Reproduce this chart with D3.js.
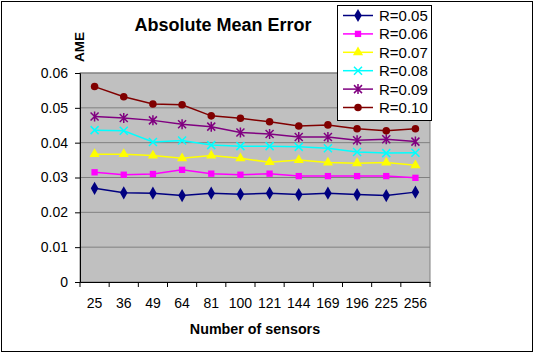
<!DOCTYPE html>
<html>
<head>
<meta charset="utf-8">
<script src="https://cdn.jsdelivr.net/npm/d3@7"></script>
<style>
  body { margin: 0; background: #fff; }
  text { font-family: Arial, "Liberation Sans", sans-serif; }
</style>
</head>
<body>
<div id="chart"></div>
<script>
const sensors = ["25", "36", "49", "64", "81", "100", "121", "144", "169", "196", "225", "256"];
const yTicks = [0, 0.01, 0.02, 0.03, 0.04, 0.05, 0.06];

const r005 = [0.0269, 0.0256, 0.0255, 0.0248, 0.0255, 0.0252, 0.0255, 0.0251, 0.0255, 0.0251, 0.0248, 0.0258];
const r006 = [0.0315, 0.0308, 0.0310, 0.0322, 0.0311, 0.0308, 0.0311, 0.0304, 0.0304, 0.0304, 0.0304, 0.0299];
const r007 = [0.0367, 0.0367, 0.0363, 0.0355, 0.0363, 0.0355, 0.0344, 0.0350, 0.0343, 0.0341, 0.0343, 0.0335];
const r008 = [0.0436, 0.0434, 0.0402, 0.0406, 0.0393, 0.0390, 0.0390, 0.0388, 0.0384, 0.0373, 0.0370, 0.0371];
const r009 = [0.0475, 0.0471, 0.0464, 0.0453, 0.0446, 0.0429, 0.0425, 0.0416, 0.0416, 0.0407, 0.0410, 0.0403];
const r010 = [0.0561, 0.0532, 0.0511, 0.0509, 0.0477, 0.0470, 0.0460, 0.0448, 0.0451, 0.0440, 0.0434, 0.0440];

const series = [
  { name: "R=0.05", values: r005, color: "#000080", marker: "diamond" },
  { name: "R=0.06", values: r006, color: "#ff00ff", marker: "square" },
  { name: "R=0.07", values: r007, color: "#ffff00", marker: "triangle" },
  { name: "R=0.08", values: r008, color: "#00ffff", marker: "x" },
  { name: "R=0.09", values: r009, color: "#800080", marker: "star" },
  { name: "R=0.10", values: r010, color: "#800000", marker: "circle" },
];

const width = 534;
const height = 354;
const plot = { left: 80, top: 73, right: 430, bottom: 282 };

const svg = d3.select("#chart").append("svg")
  .attr("width", width)
  .attr("height", height);

svg.append("rect")
  .attr("x", 1.5).attr("y", 1.5)
  .attr("width", 531).attr("height", 350)
  .attr("fill", "#fff")
  .attr("stroke", "#000");

const x = d3.scaleBand().domain(sensors).range([plot.left, plot.right]);
const y = d3.scaleLinear().domain([0, 0.06]).range([plot.bottom, plot.top]);

svg.append("rect")
  .attr("x", plot.left).attr("y", plot.top)
  .attr("width", plot.right - plot.left)
  .attr("height", plot.bottom - plot.top)
  .attr("fill", "#c0c0c0")
  .attr("stroke", "#808080");

svg.append("g")
  .selectAll("line")
  .data(yTicks.slice(1))
  .join("line")
  .attr("x1", plot.left).attr("x2", plot.right)
  .attr("y1", (d) => y(d)).attr("y2", (d) => y(d))
  .attr("stroke", "#808080");

const yAxis = svg.append("g")
  .attr("transform", `translate(${plot.left},0)`)
  .call(d3.axisLeft(y).tickValues(yTicks).tickSize(5).tickPadding(7)
    .tickFormat((d) => (d === 0 ? "0" : d3.format(".2f")(d))));

const xAxis = svg.append("g")
  .attr("transform", `translate(0,${plot.bottom})`)
  .call(d3.axisBottom(x).tickSize(0).tickPadding(16));

// band-boundary ticks like the original
svg.append("g")
  .selectAll("line")
  .data(d3.range(sensors.length + 1))
  .join("line")
  .attr("x1", (i) => plot.left + i * x.bandwidth())
  .attr("x2", (i) => plot.left + i * x.bandwidth())
  .attr("y1", plot.bottom).attr("y2", plot.bottom + 5)
  .attr("stroke", "#000");

[yAxis, xAxis].forEach((a) => {
  a.select(".domain").attr("stroke", "#000");
  a.selectAll(".tick line").attr("stroke", "#000");
  a.selectAll("text")
    .attr("fill", "#000")
    .style("font-size", "14px")
    .style("font-family", "Arial, 'Liberation Sans', sans-serif");
});

const line = d3.line()
  .x((d, i) => x(sensors[i]) + x.bandwidth() / 2)
  .y((d) => y(d));

const symbols = {
  diamond: d3.symbol().type(d3.symbolDiamond).size(50),
  square: d3.symbol().type(d3.symbolSquare).size(40),
  triangle: d3.symbol().type(d3.symbolTriangle).size(45),
  circle: d3.symbol().type(d3.symbolCircle).size(45),
};

function drawMarker(g, s) {
  if (s.marker === "x" || s.marker === "star") {
    const r = 4;
    g.append("path")
      .attr("d", `M${-r},${-r}L${r},${r}M${-r},${r}L${r},${-r}` +
        (s.marker === "star" ? `M0,${-r - 1}L0,${r + 1}` : ""))
      .attr("stroke", s.color)
      .attr("stroke-width", 1.5)
      .attr("fill", "none");
  } else {
    g.append("path")
      .attr("d", symbols[s.marker]())
      .attr("fill", s.color);
  }
}

const seriesG = svg.append("g")
  .selectAll("g")
  .data(series)
  .join("g");

seriesG.append("path")
  .attr("d", (d) => line(d.values))
  .attr("fill", "none")
  .attr("stroke", (d) => d.color)
  .attr("stroke-width", 1.5);

seriesG.each(function (s) {
  d3.select(this)
    .selectAll("g.pt")
    .data(s.values)
    .join("g")
    .attr("class", "pt")
    .attr("transform", (d, i) => `translate(${x(sensors[i]) + x.bandwidth() / 2},${y(d)})`)
    .each(function () { drawMarker(d3.select(this), s); });
});

svg.append("text")
  .attr("x", 223).attr("y", 31)
  .attr("text-anchor", "middle")
  .style("font-size", "18px")
  .style("font-weight", "bold")
  .text("Absolute Mean Error");

svg.append("text")
  .attr("transform", "translate(84,47) rotate(-90)")
  .attr("text-anchor", "middle")
  .style("font-size", "13.5px")
  .style("font-weight", "bold")
  .text("AME");

svg.append("text")
  .attr("x", (plot.left + plot.right) / 2).attr("y", 334)
  .attr("text-anchor", "middle")
  .style("font-size", "14.3px")
  .style("font-weight", "bold")
  .text("Number of sensors");

// legend
const legend = svg.append("g").attr("transform", "translate(337,5)");
legend.append("rect")
  .attr("x", 0.5).attr("y", 0.5)
  .attr("width", 94).attr("height", 115)
  .attr("fill", "#fff")
  .attr("stroke", "#000");

const item = legend.selectAll("g.item")
  .data(series)
  .join("g")
  .attr("class", "item")
  .attr("transform", (d, i) => `translate(0,${10.5 + i * 18.4})`);

item.append("line")
  .attr("x1", 6).attr("x2", 36)
  .attr("stroke", (d) => d.color)
  .attr("stroke-width", 1.5);

item.append("g")
  .attr("transform", "translate(21,0)")
  .each(function (s) { drawMarker(d3.select(this), s); });

item.append("text")
  .attr("x", 42).attr("y", 5.5)
  .style("font-size", "15px")
  .text((d) => d.name);
</script>
</body>
</html>
